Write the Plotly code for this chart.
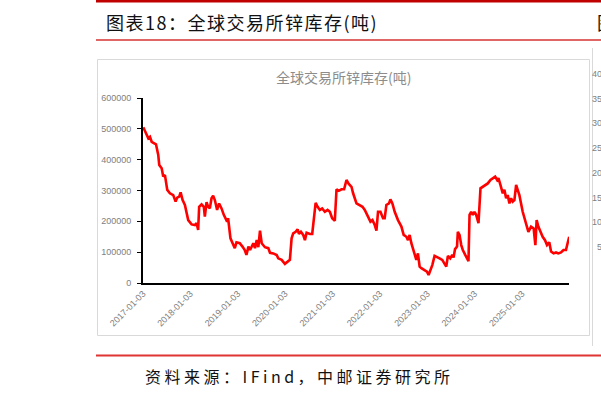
import plotly.graph_objects as go

# ---------------- data ----------------
YEARS = [
    2017.006, 2017.078, 2017.112, 2017.147, 2017.183, 2017.274, 2017.322, 2017.343, 2017.394, 2017.427,
    2017.463, 2017.512, 2017.568, 2017.638, 2017.688, 2017.722, 2017.764, 2017.794, 2017.836, 2017.884,
    2017.954, 2018.025, 2018.095, 2018.131, 2018.164, 2018.185, 2018.236, 2018.284, 2018.305, 2018.341,
    2018.375, 2018.411, 2018.446, 2018.480, 2018.516, 2018.564, 2018.606, 2018.657, 2018.705, 2018.775,
    2018.796, 2018.846, 2018.901, 2018.937, 2018.973, 2019.042, 2019.099, 2019.147, 2019.183, 2019.225,
    2019.260, 2019.295, 2019.328, 2019.364, 2019.400, 2019.434, 2019.469, 2019.505, 2019.574, 2019.644,
    2019.680, 2019.749, 2019.821, 2019.854, 2019.926, 2019.995, 2020.065, 2020.100, 2020.136, 2020.170,
    2020.221, 2020.263, 2020.291, 2020.333, 2020.381, 2020.417, 2020.453, 2020.522, 2020.571, 2020.613,
    2020.643, 2020.685, 2020.733, 2020.781, 2020.838, 2020.895, 2020.943, 2020.992, 2021.048, 2021.084,
    2021.133, 2021.189, 2021.244, 2021.294, 2021.343, 2021.400, 2021.434, 2021.505, 2021.574, 2021.632,
    2021.680, 2021.749, 2021.800, 2021.842, 2021.891, 2021.926, 2021.960, 2022.011, 2022.065, 2022.100,
    2022.136, 2022.191, 2022.221, 2022.263, 2022.312, 2022.381, 2022.453, 2022.501, 2022.558, 2022.592,
    2022.627, 2022.663, 2022.733, 2022.768, 2022.802, 2022.838, 2022.874, 2022.943, 2022.992, 2023.027,
    2023.063, 2023.105, 2023.153, 2023.202, 2023.258, 2023.315, 2023.364, 2023.400, 2023.434, 2023.484,
    2023.526, 2023.554, 2023.585, 2023.627, 2023.644, 2023.680, 2023.716, 2023.749, 2023.800, 2023.842,
    2023.869, 2023.891, 2023.926, 2023.960, 2023.995, 2024.031, 2024.080, 2024.122, 2024.170, 2024.221,
    2024.276, 2024.333, 2024.381, 2024.432, 2024.474, 2024.501, 2024.543, 2024.592, 2024.627, 2024.663,
    2024.697, 2024.733, 2024.768, 2024.802, 2024.838, 2024.874, 2024.907, 2024.943, 2025.013, 2025.084,
    2025.133, 2025.189, 2025.244, 2025.280, 2025.307, 2025.343, 2025.385, 2025.434, 2025.484, 2025.526,
    2025.574, 2025.611, 2025.665, 2025.716, 2025.764, 2025.821, 2025.874, 2025.926, 2025.960, 2025.995,
]
STOCK_TONNES = [
    505000, 480000, 469000, 474000, 458000, 450000, 415000, 383000, 372000, 345000,
    350000, 302000, 291000, 285000, 264000, 277000, 280000, 294000, 269000, 253000,
    204000, 190000, 188000, 194000, 172000, 247000, 255000, 247000, 215000, 262000,
    247000, 242000, 275000, 283000, 269000, 237000, 258000, 242000, 221000, 199000,
    210000, 145000, 123000, 113000, 132000, 129000, 118000, 107000, 91000, 118000,
    107000, 116000, 129000, 113000, 139000, 116000, 170000, 129000, 116000, 113000,
    98000, 96000, 91000, 80000, 75000, 62000, 69000, 75000, 145000, 161000,
    166000, 174000, 159000, 166000, 156000, 139000, 163000, 159000, 159000, 226000,
    260000, 247000, 237000, 242000, 231000, 237000, 231000, 210000, 202000, 304000,
    299000, 304000, 304000, 334000, 321000, 312000, 291000, 258000, 253000, 247000,
    237000, 215000, 199000, 204000, 188000, 170000, 231000, 231000, 210000, 210000,
    253000, 258000, 271000, 258000, 231000, 204000, 183000, 156000, 150000, 139000,
    156000, 129000, 91000, 75000, 96000, 53000, 48000, 42000, 37000, 26000,
    42000, 58000, 88000, 83000, 80000, 75000, 64000, 53000, 88000, 80000,
    91000, 83000, 110000, 118000, 166000, 156000, 123000, 107000, 91000, 75000,
    71000, 221000, 231000, 221000, 231000, 221000, 194000, 307000, 312000, 318000,
    323000, 334000, 340000, 345000, 334000, 340000, 318000, 291000, 302000, 275000,
    285000, 258000, 275000, 264000, 269000, 318000, 302000, 285000, 231000, 188000,
    166000, 183000, 177000, 123000, 204000, 183000, 166000, 150000, 139000, 123000,
    132000, 102000, 96000, 99000, 96000, 99000, 107000, 107000, 129000, 150000,
]
X_TICK_VALUES = [2017, 2018, 2019, 2020, 2021, 2022, 2023, 2024, 2025]
X_TICK_LABELS = ["2017-01-03", "2018-01-03", "2019-01-03", "2020-01-03", "2021-01-03",
                 "2022-01-03", "2023-01-03", "2024-01-03", "2025-01-03"]
Y_TICK_VALUES = [0, 100000, 200000, 300000, 400000, 500000, 600000]
NEIGHBOUR_LABELS = ["40", "35", "30", "25", "20", "15", "10", "5"]

HEADER = "图表18：全球交易所锌库存(吨)"
CHART_TITLE = "全球交易所锌库存(吨)"
SOURCE = "资料来源：IFind，中邮证券研究所"

# ---------------- layout helpers (pixel -> paper) ----------------
W, H = 601, 395
L, R, T, B = 143, 32, 98, 112
PW, PH = W - L - R, H - T - B


def px(x):
    return (x - L) / PW


def py(y):
    return (H - B - y) / PH


CJK = "Noto Sans CJK SC, Noto Sans, sans-serif"
TICK_FONT = dict(family="Liberation Sans, Arial, sans-serif", size=9, color="#808080")

fig = go.Figure()
fig.add_trace(go.Scatter(
    x=YEARS, y=STOCK_TONNES, mode="lines",
    line=dict(color="#ff0000", width=2.6),
    hoverinfo="x+y", showlegend=False,
))

shapes = [
    # header red rule at very top
    dict(type="line", xref="paper", yref="paper", x0=px(96), x1=px(605), y0=py(1), y1=py(1),
         line=dict(color="#c00000", width=3)),
    # rule under header
    dict(type="line", xref="paper", yref="paper", x0=px(96), x1=px(605), y0=py(40), y1=py(40),
         line=dict(color="#e06666", width=2)),
    # bottom rule above source
    dict(type="line", xref="paper", yref="paper", x0=px(96), x1=px(605), y0=py(355.5), y1=py(355.5),
         line=dict(color="#e03333", width=2)),
    # chart frame
    dict(type="rect", xref="paper", yref="paper", x0=px(97.5), x1=px(589.5), y0=py(59.5), y1=py(335.5),
         line=dict(color="#d9d9d9", width=1), fillcolor="rgba(0,0,0,0)", layer="below"),
    # neighbouring chart frame (cut off)
    dict(type="line", xref="paper", yref="paper", x0=px(592.5), x1=px(592.5), y0=py(48), y1=py(346),
         line=dict(color="#d9d9d9", width=1)),
]

annotations = [
    dict(text=f'<span style="letter-spacing:1.5px">{HEADER}</span>', xref="paper", yref="paper",
         x=px(104), y=py(21.5), xanchor="left", yanchor="middle", showarrow=False,
         font=dict(family=CJK, size=18, color="#111111")),
    dict(text="图", xref="paper", yref="paper", x=px(595), y=py(21.5), xanchor="left", yanchor="middle",
         showarrow=False, font=dict(family=CJK, size=18, color="#111111")),
    dict(text=CHART_TITLE, xref="paper", yref="paper", x=px(343), y=py(77), xanchor="center",
         yanchor="middle", showarrow=False, font=dict(family=CJK, size=14, color="#8c8c8c")),
    dict(text=f'<span style="letter-spacing:3.5px">{SOURCE}</span>', xref="paper", yref="paper",
         x=px(143), y=py(376), xanchor="left", yanchor="middle", showarrow=False,
         font=dict(family=CJK, size=16, color="#111111")),
]
for i, lab in enumerate(NEIGHBOUR_LABELS):
    annotations.append(dict(text=lab, xref="paper", yref="paper", x=px(604), y=py(74 + 24.7 * i),
                            xanchor="right", yanchor="middle", showarrow=False,
                            font=dict(family="Liberation Sans, Arial, sans-serif", size=9, color="#808080")))

fig.update_layout(
    width=W, height=H,
    margin=dict(l=L, r=R, t=T, b=B, pad=0),
    paper_bgcolor="#ffffff", plot_bgcolor="#ffffff",
    shapes=shapes, annotations=annotations,
    xaxis=dict(range=[2017.0, 2025.99], tickmode="array", tickvals=X_TICK_VALUES, ticktext=X_TICK_LABELS,
               tickangle=-45, tickfont=TICK_FONT, showgrid=False, zeroline=False,
               showline=True, linecolor="#000000", linewidth=2, ticks="", fixedrange=True),
    yaxis=dict(range=[0, 600000], tickmode="array", tickvals=Y_TICK_VALUES,
               ticktext=[str(v) for v in Y_TICK_VALUES], tickfont=TICK_FONT,
               showgrid=False, zeroline=False, showline=True, linecolor="#000000", linewidth=2,
               ticks="outside", ticklen=4, tickwidth=1, tickcolor="#000000", ticklabelstandoff=4,
               fixedrange=True),
)

fig.write_html("out.html", config={"displayModeBar": False},
               post_script="document.body.style.margin='0';")
